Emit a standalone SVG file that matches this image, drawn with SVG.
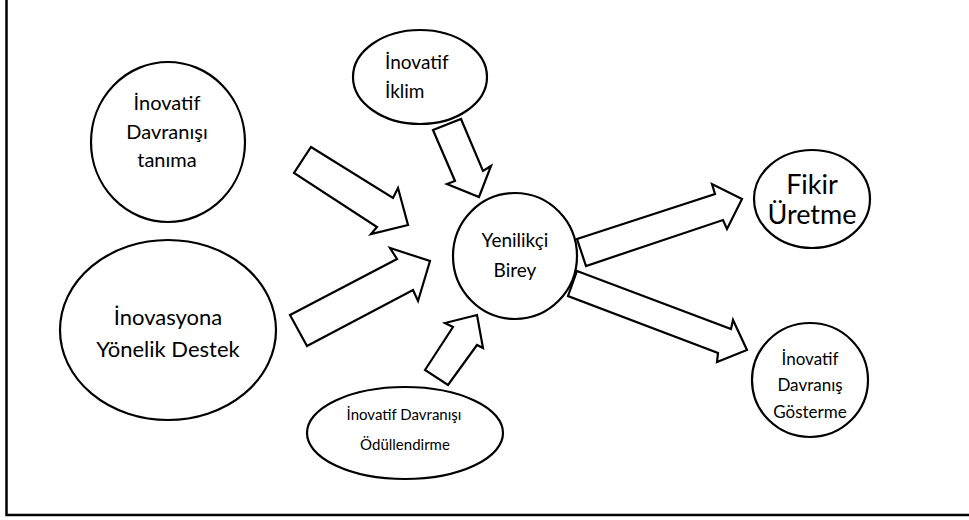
<svg xmlns="http://www.w3.org/2000/svg" width="969" height="520" viewBox="0 0 969 520">
  <style>
    .node ellipse { fill: #ffffff; stroke: #000000; stroke-width: 2.2; }
    .node text { font-family: Lato, "Open Sans", "Liberation Sans", sans-serif; fill: #000000; text-anchor: middle; }
    .arrow { fill: #ffffff; stroke: #000000; stroke-width: 2.2; stroke-linejoin: miter; }
    .frame { fill: none; stroke: #000000; stroke-width: 2.5; }
  </style>
  <rect width="969" height="520" fill="#ffffff"/>
  <!-- page frame: left and bottom rules -->
  <polyline class="frame" points="6.5,0 6.5,515 969,515"/>

  <!-- block arrows -->
  <g id="connectors">
    <polygon class="arrow" points="311,147 393,198 398,188 408,225 371,234 377,227 294,173"/>
    <polygon class="arrow" points="290,315 397,259 390,248 430,261 418,301 413,290 307,346"/>
    <polygon class="arrow" points="433,130 461,119 483,171 491,166 479,197 447,184 455,181"/>
    <polygon class="arrow" points="425,370 453,327 445,323 477,315 483,348 477,345 448,385"/>
    <polygon class="arrow" points="577,239 715,194 712,184 742,199 727,229 723,220 586,266"/>
    <polygon class="arrow" points="577,271 731,329 733,320 747,350 717,362 718,353 568,296"/>
  </g>

  <g id="node-tanima" class="node">
    <ellipse cx="168" cy="142" rx="77" ry="80"/>
    <text font-size="20"><tspan x="167" y="110">İnovatif</tspan><tspan x="167" y="139">Davranışı</tspan><tspan x="167" y="167">tanıma</tspan></text>
  </g>

  <g id="node-iklim" class="node">
    <ellipse cx="420" cy="77" rx="67" ry="47"/>
    <text font-size="19" style="text-anchor:start"><tspan x="385" y="69">İnovatif</tspan><tspan x="385" y="98">İklim</tspan></text>
  </g>

  <g id="node-destek" class="node">
    <ellipse cx="168" cy="330" rx="108" ry="90"/>
    <text font-size="22"><tspan x="168" y="325">İnovasyona</tspan><tspan x="168" y="357">Yönelik Destek</tspan></text>
  </g>

  <g id="node-birey" class="node">
    <ellipse cx="515" cy="256" rx="62" ry="63"/>
    <text font-size="19"><tspan x="515" y="247">Yenilikçi</tspan><tspan x="515" y="277">Birey</tspan></text>
  </g>

  <g id="node-fikir" class="node">
    <ellipse cx="812" cy="199" rx="58" ry="49"/>
    <text font-size="27"><tspan x="812" y="194">Fikir</tspan><tspan x="812" y="224">Üretme</tspan></text>
  </g>

  <g id="node-gosterme" class="node">
    <ellipse cx="810" cy="380" rx="58" ry="57"/>
    <text font-size="17"><tspan x="810" y="365">İnovatif</tspan><tspan x="810" y="391">Davranış</tspan><tspan x="810" y="418">Gösterme</tspan></text>
  </g>

  <g id="node-odul" class="node">
    <ellipse cx="405" cy="433" rx="98" ry="46"/>
    <text font-size="15"><tspan x="404" y="420">İnovatif Davranışı</tspan><tspan x="405" y="450">Ödüllendirme</tspan></text>
  </g>
</svg>
